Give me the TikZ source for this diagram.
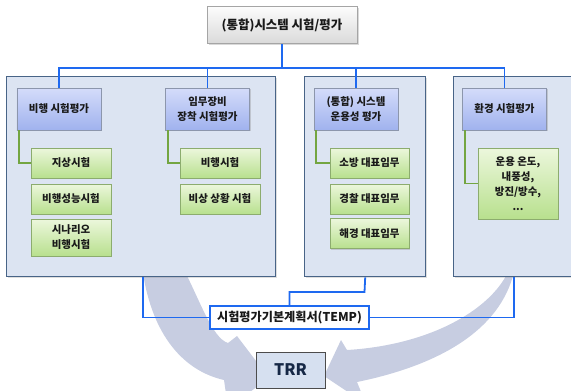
\documentclass[tikz,border=0pt]{standalone}
\usepackage{fontspec}
\setmainfont{Noto Sans CJK KR}
\usetikzlibrary{shadows}
\definecolor{arrowc}{RGB}{199,205,225}
\definecolor{panelfill}{RGB}{220,228,242}
\definecolor{paneldraw}{RGB}{72,100,135}
\definecolor{bluel}{RGB}{30,105,240}
\definecolor{greenl}{RGB}{115,165,65}
\definecolor{hdtop}{RGB}{212,220,250}
\definecolor{hdbot}{RGB}{160,178,238}
\definecolor{hddraw}{RGB}{140,150,172}
\definecolor{grtop}{RGB}{236,247,220}
\definecolor{grbot}{RGB}{184,224,142}
\definecolor{grdraw}{RGB}{140,172,110}
\definecolor{tptop}{RGB}{252,252,252}
\definecolor{tpbot}{RGB}{218,218,218}
\definecolor{tpdraw}{RGB}{165,165,165}
\definecolor{trrfill}{RGB}{214,224,240}
\definecolor{trrtext}{RGB}{22,40,70}
\definecolor{txt}{RGB}{25,25,25}
\begin{document}
\begin{tikzpicture}[x=1bp,y=-1bp,
  panel/.style={draw=paneldraw,line width=1.4bp,fill=panelfill,
    drop shadow={shadow xshift=1bp,shadow yshift=-1bp,opacity=0.25}},
  hdbox/.style={draw=hddraw,line width=0.6bp,top color=hdtop,bottom color=hdbot,
    minimum width=84bp,minimum height=42bp,inner sep=0pt,align=center,text=txt,
    font=\fontsize{10.5}{15}\selectfont\bfseries,
    drop shadow={shadow xshift=1.2bp,shadow yshift=-1.2bp,opacity=0.3}},
  grbox/.style={draw=grdraw,line width=0.6bp,top color=grtop,bottom color=grbot,
    minimum width=80bp,minimum height=30bp,inner sep=0pt,align=center,text=txt,
    font=\fontsize{10.5}{15}\selectfont\bfseries,
    drop shadow={shadow xshift=1.2bp,shadow yshift=-1.2bp,opacity=0.3}},
  tpbox/.style={draw=tpdraw,line width=0.6bp,top color=tptop,bottom color=tpbot,
    minimum width=150bp,minimum height=37bp,inner sep=0pt,text=txt,
    font=\fontsize{12.5}{15}\selectfont\bfseries,
    drop shadow={shadow xshift=1.5bp,shadow yshift=-1.5bp,opacity=0.3}},
  bline/.style={draw=bluel,line width=1.8bp},
  gline/.style={draw=greenl,line width=1.8bp},
  tempbox/.style={draw=bluel,line width=1.5bp,fill=white,minimum width=159bp,
    minimum height=23bp,inner sep=0pt,text=txt,font=\fontsize{12.2}{14}\selectfont\bfseries},
  trrbox/.style={draw=black!70,line width=0.9bp,fill=trrfill,minimum width=69bp,
    minimum height=36bp,inner sep=0pt,text=trrtext,font=\fontsize{16}{18}\selectfont\bfseries}
]
\useasboundingbox (0,0) rectangle (571,390);
% big curved arrows
\fill[arrowc] (142,266) .. controls (150,330) and (180,370) .. (224,380)
  -- (228,408) -- (269,378) -- (237,336) -- (228,343)
  .. controls (212,338) and (200,300) .. (182,266) -- cycle;
\fill[arrowc] (514,272) .. controls (500,330) and (440,365) .. (357,382)
  -- (366,404) -- (324,376) -- (341,340) -- (347,350)
  .. controls (430,345) and (490,310) .. (508,272) -- cycle;
% panels
\node[panel,minimum width=269bp,minimum height=200bp,anchor=north west,inner sep=0pt] (p1) at (6,76) {};
\node[panel,minimum width=121bp,minimum height=200bp,anchor=north west,inner sep=0pt] (p2) at (304,76) {};
\node[panel,minimum width=120bp,minimum height=200bp,anchor=north west,inner sep=0pt] (p3) at (453,76) {};
% top box
\node[tpbox] (top) at (282,25) {(통합)시스템 시험/평가};
% header boxes
\node[hdbox] (h1) at (59,109) {비행 시험평가};
\node[hdbox] (h2) at (207.5,109) {임무장비\\장착 시험평가};
\node[hdbox] (h3) at (356,109) {(통합) 시스템\\운용성 평가};
\node[hdbox] (h4) at (504.5,109) {환경 시험평가};
% green boxes
\node[grbox] (g11) at (71,163) {지상시험};
\node[grbox] (g12) at (71,199) {비행성능시험};
\node[grbox,minimum height=37bp] (g13) at (71,237.5) {시나리오\\비행시험};
\node[grbox] (g21) at (220,163) {비행시험};
\node[grbox] (g22) at (220,199) {비상 상황 시험};
\node[grbox,minimum width=79bp] (g31) at (369.5,163) {소방 대표임무};
\node[grbox,minimum width=79bp] (g32) at (369.5,199) {경찰 대표임무};
\node[grbox,minimum width=79bp] (g33) at (369.5,233.5) {해경 대표임무};
\node[grbox,minimum height=71bp] (g41) at (518,183.5) {운용 온도,\\내풍성,\\방진/방수,\\...};
% green connectors
\draw[gline] ([xshift=2.5bp]h1.south west) |- (g11.west);
\draw[gline] ([xshift=2.5bp]h2.south west) |- (g21.west);
\draw[gline] ([xshift=2.5bp]h3.south west) |- (g31.west);
\draw[gline] ([xshift=2.5bp]h4.south west) |- (g41.west);
% blue tree
\coordinate (bus) at (282,68);
\draw[bline] (top.south) -- (bus);
\draw[bline] (h1.north) -- (h1.north |- bus) -- (h4.north |- bus) -- (h4.north);
\draw[bline] (h2.north) -- (h2.north |- bus);
\draw[bline] (h3.north) -- (h3.north |- bus);
% TEMP
\node[tempbox] (temp) at (289.5,317.5) {시험평가기본계획서(TEMP)};
\coordinate (j2) at (364.5,292);
\draw[bline] ([xshift=1.5bp]p1.south) |- (temp.west);
\draw[bline] (p2.south) -- (j2) -| (temp.north);
\draw[bline] (p3.south) |- (temp.east);
% TRR
\node[trrbox] (trr) at (290.5,370) {TRR};
\end{tikzpicture}
\end{document}
